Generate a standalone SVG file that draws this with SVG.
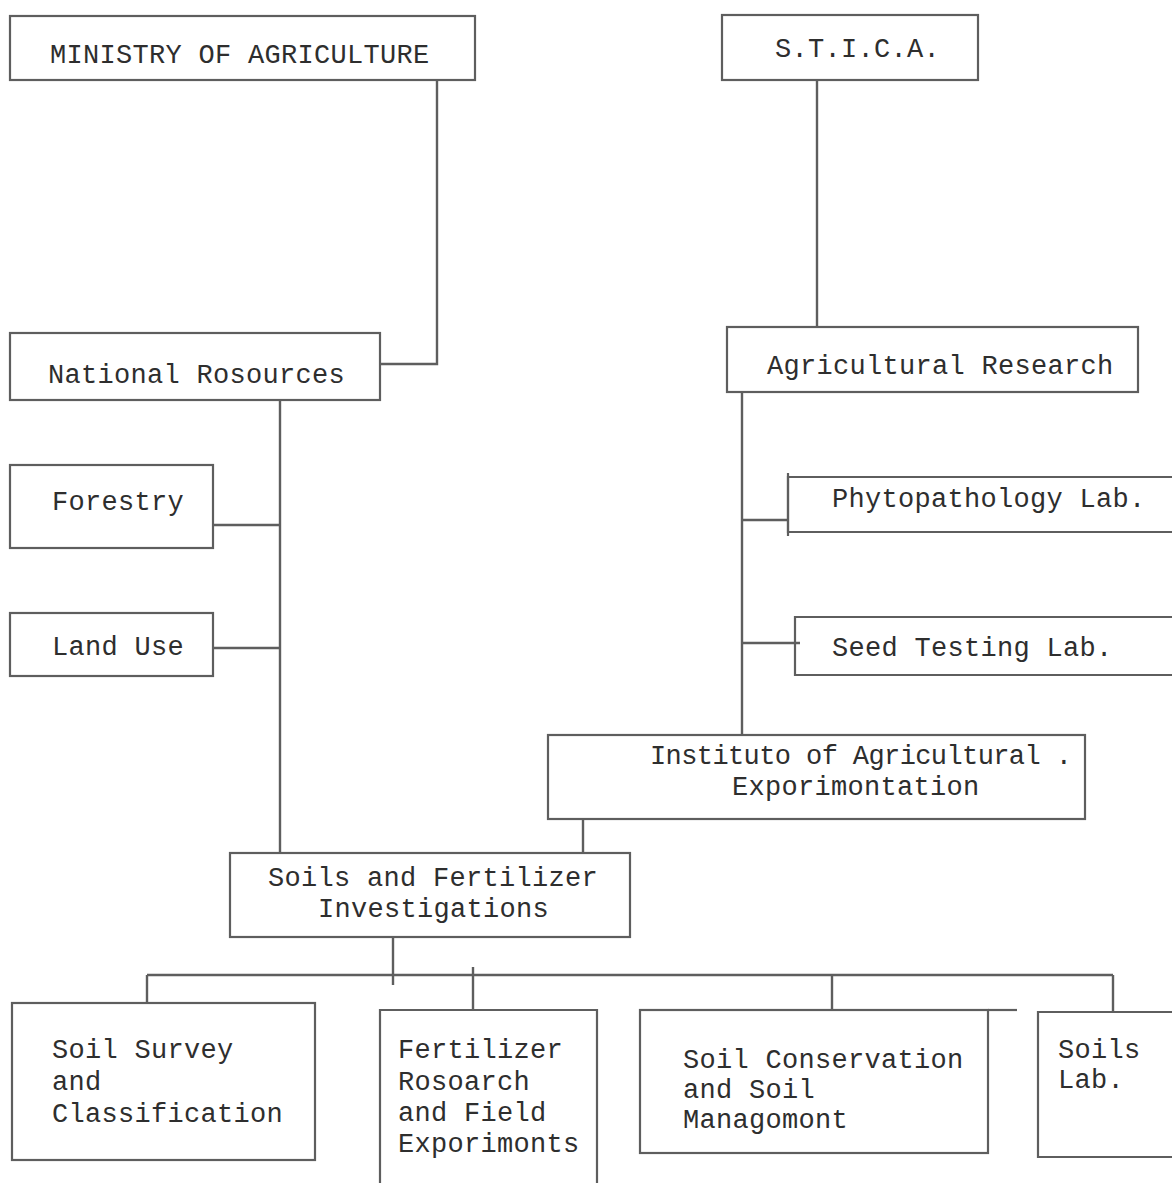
<svg xmlns="http://www.w3.org/2000/svg" width="1172" height="1183" viewBox="0 0 1172 1183">
<style>
.bg{fill:#ffffff}
.box{fill:none;stroke:#5e5e5e;stroke-width:2.2}
.ln{fill:none;stroke:#5e5e5e;stroke-width:2.4}
text{font-family:"Liberation Mono","DejaVu Sans Mono",monospace;font-size:27px;letter-spacing:0.3px;fill:#2e2e2e}
.tight{letter-spacing:-0.6px}
</style>
<rect class="bg" x="0" y="0" width="1172" height="1183"/>

<g id="connectors">
<polyline class="ln" points="437,80 437,364 380,364"/>
<line class="ln" x1="280" y1="400" x2="280" y2="853"/>
<line class="ln" x1="213" y1="525" x2="280" y2="525"/>
<line class="ln" x1="213" y1="648" x2="279" y2="648"/>
<line class="ln" x1="817" y1="80" x2="817" y2="327"/>
<line class="ln" x1="742" y1="392" x2="742" y2="735"/>
<line class="ln" x1="742" y1="520" x2="788" y2="520"/>
<line class="ln" x1="742" y1="643" x2="800" y2="643"/>
<line class="ln" x1="583" y1="820" x2="583" y2="853"/>
<line class="ln" x1="393" y1="937" x2="393" y2="985"/>
<line class="ln" x1="147" y1="975" x2="1113" y2="975"/>
<line class="ln" x1="147" y1="975" x2="147" y2="1003"/>
<line class="ln" x1="473" y1="967" x2="473" y2="1010"/>
<line class="ln" x1="832" y1="975" x2="832" y2="1010"/>
<line class="ln" x1="1113" y1="975" x2="1113" y2="1012"/>
</g>

<g id="ministry">
<rect class="box" x="10" y="16" width="465" height="64"/>
<text x="50" y="63">MINISTRY OF AGRICULTURE</text>
</g>

<g id="stica">
<rect class="box" x="722" y="15" width="256" height="65"/>
<text x="775" y="57">S.T.I.C.A.</text>
</g>

<g id="national-resources">
<rect class="box" x="10" y="333" width="370" height="67"/>
<text x="48" y="383">National Rosources</text>
</g>

<g id="agricultural-research">
<rect class="box" x="727" y="327" width="411" height="65"/>
<text x="767" y="374">Agricultural Research</text>
</g>

<g id="forestry">
<rect class="box" x="10" y="465" width="203" height="83"/>
<text x="52" y="510">Forestry</text>
</g>

<g id="land-use">
<rect class="box" x="10" y="613" width="203" height="63"/>
<text x="52" y="655">Land Use</text>
</g>

<g id="phytopathology-lab">
<polyline class="box" points="1172,477 788,477 788,532 1172,532"/>
<line class="box" x1="788" y1="473" x2="788" y2="536"/>
<text x="832" y="507">Phytopathology Lab.</text>
</g>

<g id="seed-testing-lab">
<polyline class="box" points="1172,617 795,617 795,675 1172,675"/>
<text x="832" y="656">Seed Testing Lab.</text>
</g>

<g id="institute">
<rect class="box" x="548" y="735" width="537" height="84"/>
<text class="tight" x="650" y="764">Instituto of Agricultural .</text>
<text x="732" y="795">Exporimontation</text>
</g>

<g id="soils-fertilizer">
<rect class="box" x="230" y="853" width="400" height="84"/>
<text x="268" y="886">Soils and Fertilizer</text>
<text x="318" y="917">Investigations</text>
</g>

<g id="soil-survey">
<rect class="box" x="12" y="1003" width="303" height="157"/>
<text x="52" y="1058">Soil Survey</text>
<text x="52" y="1090">and</text>
<text x="52" y="1122">Classification</text>
</g>

<g id="fertilizer-research">
<polyline class="box" points="380,1183 380,1010 597,1010 597,1183"/>
<text x="398" y="1058">Fertilizer</text>
<text x="398" y="1090">Rosoarch</text>
<text x="398" y="1121">and Field</text>
<text x="398" y="1152">Exporimonts</text>
</g>

<g id="soil-conservation">
<rect class="box" x="640" y="1010" width="348" height="143"/>
<line class="box" x1="988" y1="1010" x2="1017" y2="1010"/>
<text x="683" y="1068">Soil Conservation</text>
<text x="683" y="1098">and Soil</text>
<text x="683" y="1128">Managomont</text>
</g>

<g id="soils-lab">
<polyline class="box" points="1172,1012 1038,1012 1038,1157 1172,1157"/>
<text x="1058" y="1058">Soils</text>
<text x="1058" y="1088">Lab.</text>
</g>
</svg>
